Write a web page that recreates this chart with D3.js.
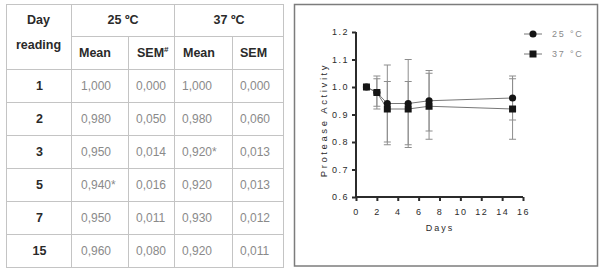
<!DOCTYPE html>
<html><head><meta charset="utf-8">
<script src="https://cdn.jsdelivr.net/npm/d3@7"></script>
<style>
html,body{margin:0;padding:0;background:#fff;}
svg{display:block;font-family:"Liberation Sans",Arial,sans-serif;}
</style></head>
<body>
<svg id="c" width="600" height="272"></svg>
<script>
// ---------- Table data ----------
const tableDays = ["1","2","3","5","7","15"];
const tableMean25 = ["1,000","0,980","0,950","0,940*","0,950","0,960"];
const tableSem25  = ["0,000","0,050","0,014","0,016","0,011","0,080"];
const tableMean37 = ["1,000","0,980","0,920*","0,920","0,930","0,920"];
const tableSem37  = ["0,000","0,060","0,013","0,013","0,012","0,011"];

// ---------- Chart data ----------
const days = [1, 2, 3, 5, 7, 15];
const mean25 = [1.000, 0.980, 0.940, 0.940, 0.950, 0.960];
const errUp25 = [0, 0.05, 0.14, 0.16, 0.11, 0.08];
const errDn25 = [0, 0.05, 0.14, 0.16, 0.11, 0.08];
const mean37 = [1.000, 0.980, 0.920, 0.920, 0.930, 0.920];
const errUp37 = [0, 0.06, 0.10, 0.10, 0.12, 0.11];
const errDn37 = [0, 0.06, 0.13, 0.13, 0.12, 0.11];
const xTicks = [0, 2, 4, 6, 8, 10, 12, 14, 16];
const yTicks = [0.6, 0.7, 0.8, 0.9, 1.0, 1.1, 1.2];
const seriesNames = ["25 °C", "37 °C"];

const svg = d3.select("#c");

// ---------- Table ----------
const colX = [6, 71, 128, 174, 232, 283];
const rowTop = 4, rowMid = 36, rowHead = 69, rowH = 33;
const rowBottom = rowHead + rowH * tableDays.length;
const tg = svg.append("g");
const lineCol = "#c4c4c4";
tg.append("rect").attr("x", colX[0] + 0.5).attr("y", rowTop + 0.5)
  .attr("width", colX[5] - colX[0]).attr("height", rowBottom - rowTop)
  .attr("fill", "none").attr("stroke", lineCol);
[colX[1], colX[3]].forEach(x => tg.append("line").attr("x1", x + 0.5).attr("x2", x + 0.5)
  .attr("y1", rowTop).attr("y2", rowBottom).attr("stroke", lineCol));
[colX[2], colX[4]].forEach(x => tg.append("line").attr("x1", x + 0.5).attr("x2", x + 0.5)
  .attr("y1", rowMid).attr("y2", rowBottom).attr("stroke", lineCol));
tg.append("line").attr("x1", colX[1]).attr("x2", colX[5]).attr("y1", rowMid + 0.5).attr("y2", rowMid + 0.5).attr("stroke", lineCol);
for (let i = 0; i < tableDays.length; i++) {
  const y = rowHead + rowH * i + 0.5;
  tg.append("line").attr("x1", colX[0]).attr("x2", colX[5]).attr("y1", y).attr("y2", y).attr("stroke", lineCol);
}
const headCol = "#2a2a2a", valCol = "#8a8a8a";
function txt(x, y, s, opts) {
  const t = tg.append("text").attr("x", x).attr("y", y).attr("font-size", opts.size || 12.5)
    .attr("fill", opts.fill || headCol).attr("font-weight", opts.bold ? "bold" : "normal")
    .attr("text-anchor", opts.anchor || "start").attr("dominant-baseline", "central").text(s);
  return t;
}
txt(38.5, 20, "Day", {anchor: "middle", bold: true});
txt(38.5, 45, "reading", {anchor: "middle", bold: true});
txt((colX[1] + colX[3]) / 2 + 0.5, 20, "25 ºC", {anchor: "middle", bold: true});
txt((colX[3] + colX[5]) / 2 + 0.5, 20, "37 ºC", {anchor: "middle", bold: true});
txt(colX[1] + 8, 53, "Mean", {bold: true});
const sem = txt(colX[2] + 9, 53, "SEM", {bold: true});
sem.append("tspan").attr("font-size", 8).attr("dy", -4).text("#");
txt(colX[3] + 9, 53, "Mean", {bold: true});
txt(colX[4] + 8, 53, "SEM", {bold: true});
const cols = [tableMean25, tableSem25, tableMean37, tableSem37];
tableDays.forEach((d, i) => {
  const cy = rowHead + rowH * i + rowH / 2 + 0.5;
  txt(39.5, cy, d, {anchor: "middle", bold: true});
  cols.forEach((arr, j) => {
    const v = arr[i];
    const x = colX[j + 1] + (j === 0 ? 10 : 8);
    txt(x, cy, v, {fill: valCol, size: 12});
  });
});

// ---------- Chart ----------
svg.append("rect").attr("x", 294.5).attr("y", 4.5).attr("width", 303).attr("height", 261.5)
  .attr("fill", "none").attr("stroke", "#7c7c7c").attr("stroke-width", 1.5);

const x = d3.scaleLinear().domain([0, 16]).range([356, 523]);
const y = d3.scaleLinear().domain([0.6, 1.2]).range([197, 32]);
const cg = svg.append("g");
const axCol = "#2b2b2b";
const xAxis = d3.axisBottom(x).tickValues(xTicks).tickSize(4).tickPadding(8).tickFormat(d3.format("d"));
const yAxis = d3.axisLeft(y).tickValues(yTicks).tickSize(4).tickPadding(3).tickFormat(d3.format(".1f"));
const gx = cg.append("g").attr("transform", `translate(0,${y(0.6)})`).call(xAxis);
const gy = cg.append("g").attr("transform", `translate(${x(0)},0)`).call(yAxis);
[gx, gy].forEach(g => {
  g.select(".domain").attr("stroke", axCol).attr("stroke-width", 2);
  g.selectAll(".tick line").attr("stroke", axCol).attr("stroke-width", 2);
  g.selectAll(".tick text").attr("fill", axCol).attr("font-size", 9)
    .attr("font-family", "Liberation Sans, Arial, sans-serif").attr("letter-spacing", 1.5);
});
gx.select(".domain").attr("d", `M${x(0)},0H${x(16)}`);
gy.select(".domain").attr("d", `M0,${y(0.6)}V${y(1.2)}`);

cg.append("text").attr("x", 440).attr("y", 231).attr("text-anchor", "middle")
  .attr("font-size", 9).attr("letter-spacing", 2).attr("fill", axCol).text("Days");
cg.append("text").attr("transform", `translate(327,120) rotate(-90)`)
  .attr("text-anchor", "middle").attr("font-size", 9.5).attr("letter-spacing", 2.6)
  .attr("fill", axCol).text("Protease Activity");

const series = [
  {name: seriesNames[0], mean: mean25, up: errUp25, dn: errDn25, shape: d3.symbolCircle},
  {name: seriesNames[1], mean: mean37, up: errUp37, dn: errDn37, shape: d3.symbolSquare}
];
const errCol = "#8d8d8d";
series.forEach(s => {
  const eg = cg.append("g");
  days.forEach((d, i) => {
    if (s.up[i] === 0 && s.dn[i] === 0) return;
    const xx = x(d), y1 = y(s.mean[i] + s.up[i]), y2 = y(s.mean[i] - s.dn[i]);
    eg.append("line").attr("x1", xx).attr("x2", xx).attr("y1", y1).attr("y2", y2).attr("stroke", errCol);
    [y1, y2].forEach(yy => eg.append("line").attr("x1", xx - 3.5).attr("x2", xx + 3.5)
      .attr("y1", yy).attr("y2", yy).attr("stroke", errCol));
  });
});
const line = d3.line().x((d, i) => x(days[i])).y(d => y(d));
series.forEach(s => {
  cg.append("path").attr("d", line(s.mean)).attr("fill", "none").attr("stroke", "#777").attr("stroke-width", 1);
});
series.forEach(s => {
  const size = s.shape === d3.symbolSquare ? 49 : 40;
  cg.append("g").selectAll("path").data(s.mean).join("path")
    .attr("transform", (d, i) => `translate(${x(days[i])},${y(d)})`)
    .attr("d", d3.symbol().type(s.shape).size(size)).attr("fill", "#151515");
});

// Legend
series.forEach((s, i) => {
  const ly = 34 + i * 20;
  cg.append("line").attr("x1", 524).attr("x2", 542).attr("y1", ly).attr("y2", ly).attr("stroke", "#777");
  cg.append("path").attr("transform", `translate(533,${ly})`)
    .attr("d", d3.symbol().type(s.shape).size(s.shape === d3.symbolSquare ? 49 : 40)).attr("fill", "#151515");
  cg.append("text").attr("x", 552).attr("y", ly).attr("dominant-baseline", "central")
    .attr("font-size", 9).attr("letter-spacing", 1.8).attr("fill", "#8a8a8a").text(s.name);
});
</script>
</body></html>
